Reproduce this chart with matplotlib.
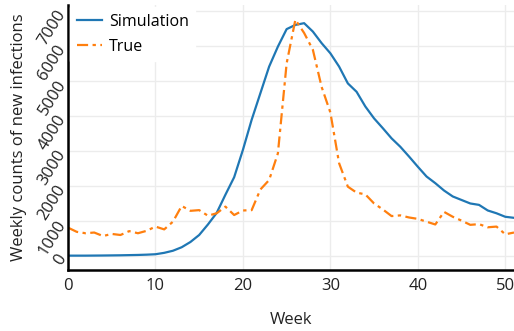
import matplotlib.pyplot as plt

weeks = list(range(52))

simulation = [10, 10, 10, 12, 14, 17, 20, 25, 30, 38, 50, 90, 150, 250, 400, 600, 900, 1230, 1750, 2250,
              3030, 3890, 4650, 5410, 5980, 6480, 6600, 6650, 6410, 6080, 5790, 5410, 4930, 4690, 4270, 3930,
              3650, 3360, 3120, 2840, 2550, 2270, 2080, 1870, 1700, 1600, 1500, 1460, 1300, 1220, 1120, 1090]

true_counts = [810, 690, 650, 670, 570, 630, 600, 710, 650, 720, 840, 760, 980, 1430, 1290, 1310, 1150, 1220,
               1410, 1170, 1300, 1310, 1900, 2170, 2930, 5500, 6750, 6370, 5890, 4830, 4100, 2650, 1980, 1810,
               1760, 1500, 1330, 1140, 1160, 1100, 1060, 980, 900, 1260, 1120, 1010, 890, 910, 820, 840, 620, 670]

x_ticks = [0, 10, 20, 30, 40, 50]
y_ticks = [0, 1000, 2000, 3000, 4000, 5000, 6000, 7000]

plt.rcParams['font.family'] = ['Open Sans', 'DejaVu Sans']

fig = plt.figure(figsize=(5.14, 3.31), dpi=100)
ax = fig.add_axes([0.1323, 0.1843, 0.8677, 0.8007])

ax.plot(weeks, simulation, color='#1f77b4', lw=1.6, label='Simulation')
ax.plot(weeks, true_counts, color='#ff7f0e', lw=1.6, linestyle=(0, (5, 2, 1.5, 2)), label='True')

ax.set_xlim(0, 51)
ax.set_ylim(-400, 7170)
ax.set_xticks(x_ticks)
ax.set_yticks(y_ticks)
ax.grid(True, color='#ececec', lw=1)
ax.set_axisbelow(True)

for side in ['top', 'right']:
    ax.spines[side].set_visible(False)
ax.spines['left'].set_linewidth(1.8)
ax.spines['bottom'].set_linewidth(1.8)

ax.tick_params(length=0, labelsize=12, colors='#222222')
ax.tick_params(axis='x', pad=6)
ax.tick_params(axis='y', pad=4)
for lab in ax.get_yticklabels():
    lab.set_rotation(58)
    lab.set_rotation_mode('anchor')
    lab.set_va('center')
    lab.set_ha('right')

ax.set_xlabel('Week', fontsize=12, color='#222222', labelpad=13)
ax.set_ylabel('Weekly counts of new infections', fontsize=12, color='#222222', labelpad=6)

leg = ax.legend(loc='upper left', fontsize=11.5, frameon=True, fancybox=False,
                handlelength=1.6, handletextpad=0.4, borderaxespad=0.15, labelspacing=0.55)
leg.get_frame().set_facecolor('white')
leg.get_frame().set_edgecolor('white')
leg.get_frame().set_alpha(1)

fig.savefig('out.png', dpi=100)
